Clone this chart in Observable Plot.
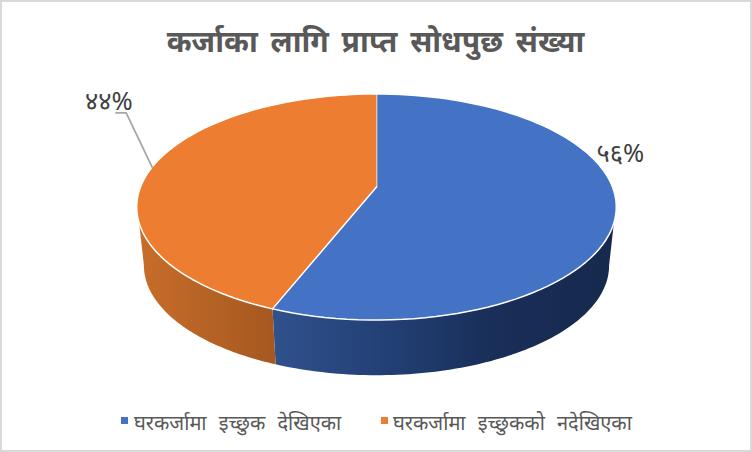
<!DOCTYPE html>
<html>
<head>
<meta charset="utf-8">
<script src="https://cdn.jsdelivr.net/npm/d3@7"></script>
<script src="https://cdn.jsdelivr.net/npm/@observablehq/plot@0.6"></script>
<style>
html,body{margin:0;padding:0;background:#fff}
#chart{position:relative;width:752px;height:452px;box-shadow:inset 0 0 0 2px #d9d9d9;overflow:hidden;font-family:"Noto Sans","Liberation Sans",sans-serif;color:#595959}
#title{height:76px;box-sizing:border-box;padding-top:18px;padding-right:1px;text-align:center;font-size:30px;font-weight:700;line-height:46px;word-spacing:5px}
#plot{height:320px}
#plot svg{display:block}
#legend{position:relative;height:56px}
.item{position:absolute;top:12px;font-size:20px;line-height:30px;white-space:nowrap;word-spacing:7px}
.sw{position:absolute;top:21px;width:7px;height:7px}
</style>
</head>
<body>
<div id="chart">
  <div id="title"></div>
  <div id="plot"></div>
  <div id="legend"></div>
</div>
<script>
const chartTitle = "कर्जाका लागि प्राप्त सोधपुछ संख्या";
const categories = ["घरकर्जामा इच्छुक देखिएका", "घरकर्जामा इच्छुकको नदेखिएका"];
const shares = [56, 44];
const shareLabels = ["५६%", "४४%"];
const topColors = ["#4472c4", "#ed7d31"];
const sideGradients = [
  [["0%", "#30518d"], ["35%", "#223f74"], ["65%", "#192e58"], ["100%", "#16294e"]],
  [["0%", "#c76d2a"], ["100%", "#a55820"]]
];

// Pie geometry, in unit-disc coordinates
const perspective = 0.177, rimScale = 0.97, rimDrop = 0.54;
const project = (t, scale = 1, drop = 0) => {
  const X = Math.sin(t), Y = -Math.cos(t), w = 1 - perspective * Y;
  return {x: scale * X / w, y: scale * Y / w + drop};
};
const rad = d => d * Math.PI / 180;
const total = d3.sum(shares);
let acc = 0;
const slices = shares.map((v, i) => {
  const a0 = acc / total * 2 * Math.PI; acc += v;
  return {i, a0, a1: acc / total * 2 * Math.PI};
});
const steps = (a, b) => { const n = 90; return d3.range(n + 1).map(k => a + (b - a) * k / n); };

const topPts = slices.flatMap(s => [
  {i: s.i, x: 0, y: 0},
  ...steps(s.a0, s.a1).map(t => ({i: s.i, ...project(t)}))
]);

// Visible wall: top rim forward, lower rim back, clipped at the silhouette angles
const silTop = rad(108), silBottom = rad(100);
const wall = (i, t0, t1, b0, b1) => [
  ...steps(t0, t1).map(t => ({i, ...project(t)})),
  ...steps(b1, b0).map(t => ({i, ...project(t, rimScale, rimDrop)}))
];
const wallPts = [
  ...wall(0, silTop, slices[0].a1, silBottom, slices[0].a1),
  ...wall(1, slices[1].a0, 2 * Math.PI - silTop, slices[1].a0, 2 * Math.PI - silBottom)
];

// Leader from the rim at the orange slice's mid angle
const midAngle = s => (s.a0 + s.a1) / 2;
const rimAnchor = project(midAngle(slices[1]));
const leader = [
  rimAnchor,
  {x: rimAnchor.x - 0.11, y: rimAnchor.y - 0.495},
  {x: rimAnchor.x - 0.153, y: rimAnchor.y - 0.495}
];

const labelPts = [
  {label: shareLabels[0], ...project(midAngle(slices[0])), dx: 0.017, dy: -0.5},
  {label: shareLabels[1], ...project(midAngle(slices[1])), dx: -0.183, dy: -0.6}
].map(d => ({...d, x: d.x + d.dx, y: d.y + d.dy}));

const defs = () => {
  const d = d3.create("svg:defs");
  sideGradients.forEach((stops, i) => {
    const g = d.append("linearGradient").attr("id", "side" + i);
    stops.forEach(([o, c]) => g.append("stop").attr("offset", o).attr("stop-color", c));
  });
  return d.node();
};

const plotTop = 76;
const chart = Plot.plot({
  width: 752,
  height: 320,
  margin: 0,
  style: {background: "transparent"},
  x: {domain: [-1, 1], range: [140, 612], axis: null},
  y: {domain: [-1, 1], range: [77 - plotTop, 296 - plotTop], axis: null},
  marks: [
    defs,
    Plot.line(wallPts.filter(d => d.i === 0), {x: "x", y: "y", fill: "url(#side0)", stroke: "none", curve: "linear"}),
    Plot.line(wallPts.filter(d => d.i === 1), {x: "x", y: "y", fill: "url(#side1)", stroke: "none", curve: "linear"}),
    Plot.line(topPts.filter(d => d.i === 0), {x: "x", y: "y", fill: topColors[0], stroke: "#fff", strokeWidth: 1.5, strokeLinejoin: "round"}),
    Plot.line(topPts.filter(d => d.i === 1), {x: "x", y: "y", fill: topColors[1], stroke: "#fff", strokeWidth: 1.5, strokeLinejoin: "round"}),
    Plot.line(leader, {x: "x", y: "y", stroke: "#a6a6a6", strokeWidth: 1.75}),
    Plot.text(labelPts, {x: "x", y: "y", text: "label", fontSize: 25.5, fill: "#404040", fontFamily: "Noto Sans, Liberation Sans, sans-serif"})
  ]
});
document.getElementById("plot").appendChild(chart);
document.getElementById("title").textContent = chartTitle;

const lefts = [[121, 134], [381, 393]];
const legend = document.getElementById("legend");
categories.forEach((c, i) => {
  const sw = document.createElement("div");
  sw.className = "sw";
  sw.style.left = lefts[i][0] + "px";
  sw.style.background = topColors[i];
  legend.appendChild(sw);
  const t = document.createElement("div");
  t.className = "item";
  t.style.left = lefts[i][1] + "px";
  t.textContent = c;
  legend.appendChild(t);
});
</script>
</body>
</html>
